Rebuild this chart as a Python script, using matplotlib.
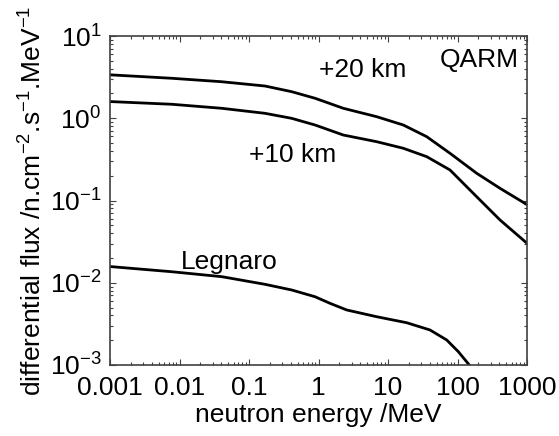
import numpy as np
import matplotlib
matplotlib.use("Agg")
import matplotlib.pyplot as plt
from matplotlib.ticker import LogLocator, NullFormatter

plt.rcParams['font.family'] = ['Liberation Sans', 'DejaVu Sans']
plt.rcParams['mathtext.fontset'] = 'custom'
plt.rcParams['mathtext.rm'] = 'Liberation Sans'
plt.rcParams['mathtext.it'] = 'Liberation Sans'
plt.rcParams['axes.unicode_minus'] = False

# log10 energy (MeV) and log10 flux
km20_logE = [-3.0, -2.112, -1.393, -0.770, -0.386, -0.050, 0.357, 0.837, 1.220, 1.557, 1.892, 2.276, 2.612, 3.0]
km20_logF = [0.528, 0.486, 0.444, 0.392, 0.323, 0.243, 0.121, 0.019, -0.082, -0.224, -0.426, -0.669, -0.852, -1.05]

km10_logE = [-3.0, -2.112, -1.393, -0.770, -0.386, -0.050, 0.357, 0.837, 1.220, 1.557, 1.892, 2.276, 2.612, 3.0]
km10_logF = [0.203, 0.170, 0.121, 0.060, -0.001, -0.082, -0.204, -0.285, -0.365, -0.467, -0.629, -0.954, -1.237, -1.52]

leg_logE = [-3.0, -2.112, -1.393, -0.770, -0.386, -0.050, 0.165, 0.406, 0.837, 1.269, 1.604, 1.845, 2.012, 2.170, 2.22]
leg_logF = [-1.803, -1.866, -1.926, -2.019, -2.088, -2.17, -2.250, -2.331, -2.413, -2.486, -2.574, -2.696, -2.838, -3.0, -3.06]

xticks = [0.001, 0.01, 0.1, 1, 10, 100, 1000]
xticklabels = ['0.001', '0.01', '0.1', '1', '10', '100', '1000']
yticks = [1e-3, 1e-2, 1e-1, 1e0, 1e1]
yticklabels = [r'$10^{-3}$', r'$10^{-2}$', r'$10^{-1}$', r'$10^{0}$', r'$10^{1}$']

FS = 19

fig = plt.figure(figsize=(5.59, 4.36), dpi=100)
ax = fig.add_axes([110/559, 1-365/436, (527-110)/559, (365-36)/436])

for le, lf in [(km20_logE, km20_logF), (km10_logE, km10_logF), (leg_logE, leg_logF)]:
    ax.plot(10**np.array(le), 10**np.array(lf), color='black', lw=2.0,
            solid_joinstyle='round')

ax.set_xscale('log')
ax.set_yscale('log')
ax.set_xlim(1e-3, 1e3)
ax.set_ylim(1e-3, 1e1)
ax.set_xticks(xticks)
ax.set_xticklabels(xticklabels)
ax.set_yticks(yticks)
ax.set_yticklabels(yticklabels)
ax.xaxis.set_minor_locator(LogLocator(base=10, subs=np.arange(2, 10), numticks=20))
ax.yaxis.set_minor_locator(LogLocator(base=10, subs=np.arange(2, 10), numticks=20))
ax.xaxis.set_minor_formatter(NullFormatter())
ax.yaxis.set_minor_formatter(NullFormatter())

ax.tick_params(which='both', direction='in', top=True, right=True, colors='#404040',
               labelcolor='black', labelsize=FS, width=0.8)
ax.tick_params(axis='x', which='major', length=4, pad=8)
ax.tick_params(axis='y', which='major', length=4, pad=6)
ax.tick_params(which='minor', length=2)
for s in ax.spines.values():
    s.set_color('#404040')
    s.set_linewidth(1.2)

ax.set_xlabel('neutron energy /MeV', fontsize=FS, labelpad=2)
ax.set_ylabel(r'differential flux /n.cm$^{-2}$.s$^{-1}$.MeV$^{-1}$', fontsize=FS, labelpad=2)

ax.text(0.607, 0.897, '+20 km', transform=ax.transAxes, fontsize=FS, ha='center', va='center')
ax.text(0.885, 0.927, 'QARM', transform=ax.transAxes, fontsize=FS, ha='center', va='center')
ax.text(0.439, 0.638, '+10 km', transform=ax.transAxes, fontsize=FS, ha='center', va='center')
ax.text(0.285, 0.313, 'Legnaro', transform=ax.transAxes, fontsize=FS, ha='center', va='center')

fig.savefig('out.png', dpi=100)
